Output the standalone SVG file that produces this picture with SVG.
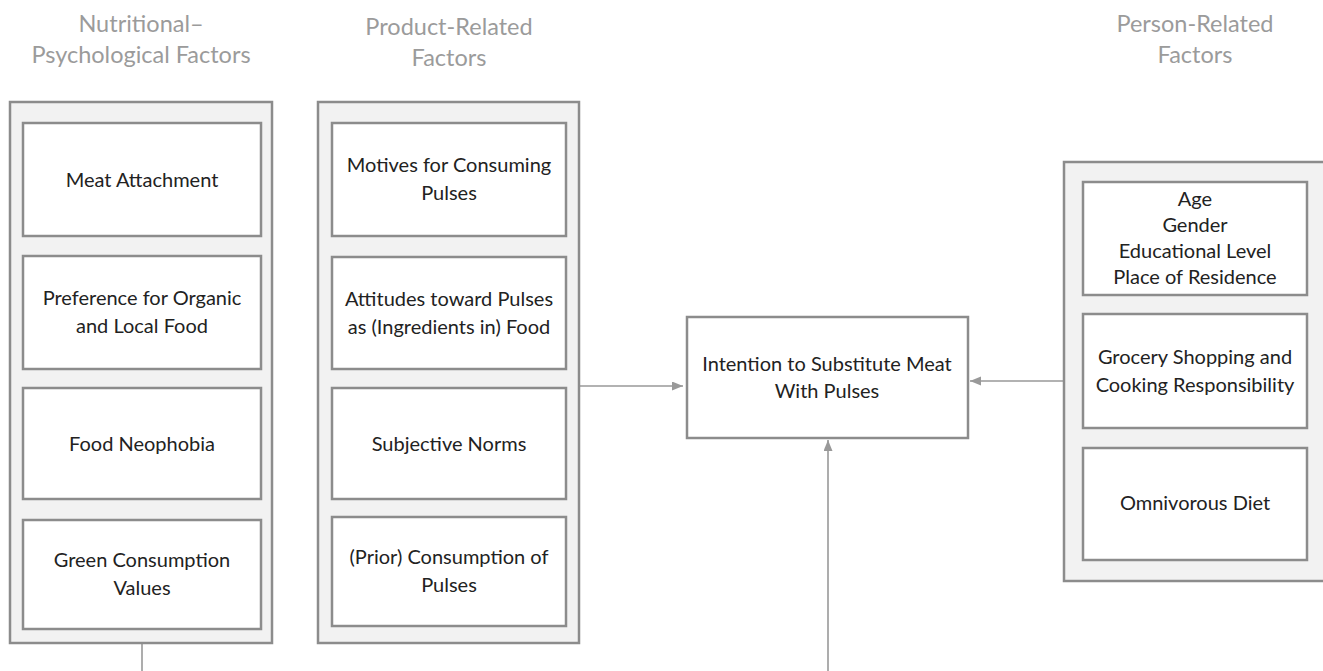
<svg xmlns="http://www.w3.org/2000/svg" width="1323" height="671" viewBox="0 0 1323 671">
<style>
.bg{fill:#ffffff}
.outer{fill:#f2f2f2;stroke:#8c8c8c;stroke-width:2.5}
.inner{fill:#ffffff;stroke:#8c8c8c;stroke-width:2.5}
.title{font-family:Lato,"Liberation Sans",sans-serif;font-size:23.5px;fill:#9b9b9b;text-anchor:middle}
.lbl{font-family:Lato,"Liberation Sans",sans-serif;font-size:20px;fill:#222222;text-anchor:middle}
.conn{fill:none;stroke:#999999;stroke-width:1.6}
</style>
<defs>
<marker id="arr" markerUnits="userSpaceOnUse" markerWidth="12" markerHeight="10" refX="11" refY="4.5" orient="auto">
<path d="M0,0 L11,4.5 L0,9 z" fill="#999999"/>
</marker>
</defs>
<rect class="bg" x="0" y="0" width="1323" height="671"/>

<g id="connectors">
<line class="conn" x1="142" y1="643" x2="142" y2="671"/>
<line class="conn" x1="828" y1="671" x2="828" y2="440" marker-end="url(#arr)"/>
<line class="conn" x1="580" y1="386" x2="683" y2="386" marker-end="url(#arr)"/>
<line class="conn" x1="1063" y1="381" x2="970" y2="381" marker-end="url(#arr)"/>
</g>

<g id="group-nutritional">
<text class="title" x="141" y="32">Nutritional–</text>
<text class="title" x="141" y="63">Psychological Factors</text>
<rect class="outer" x="10" y="102" width="262" height="541"/>
</g>
<g id="node-meat-attachment">
<rect class="inner" x="23" y="123" width="238" height="113"/>
<text class="lbl" x="142" y="187">Meat Attachment</text>
</g>
<g id="node-organic-local">
<rect class="inner" x="23" y="256" width="238" height="113"/>
<text class="lbl" x="142" y="305">Preference for Organic</text>
<text class="lbl" x="142" y="333">and Local Food</text>
</g>
<g id="node-neophobia">
<rect class="inner" x="23" y="388" width="238" height="111"/>
<text class="lbl" x="142" y="451">Food Neophobia</text>
</g>
<g id="node-green-values">
<rect class="inner" x="23" y="520" width="238" height="109"/>
<text class="lbl" x="142" y="567">Green Consumption</text>
<text class="lbl" x="142" y="595">Values</text>
</g>

<g id="group-product">
<text class="title" x="449" y="35">Product-Related</text>
<text class="title" x="449" y="66">Factors</text>
<rect class="outer" x="318" y="102" width="261" height="541"/>
</g>
<g id="node-motives">
<rect class="inner" x="332" y="123" width="234" height="113"/>
<text class="lbl" x="449" y="172">Motives for Consuming</text>
<text class="lbl" x="449" y="200">Pulses</text>
</g>
<g id="node-attitudes">
<rect class="inner" x="332" y="257" width="234" height="112"/>
<text class="lbl" x="449" y="306">Attitudes toward Pulses</text>
<text class="lbl" x="449" y="334">as (Ingredients in) Food</text>
</g>
<g id="node-norms">
<rect class="inner" x="332" y="388" width="234" height="111"/>
<text class="lbl" x="449" y="451">Subjective Norms</text>
</g>
<g id="node-prior">
<rect class="inner" x="332" y="517" width="234" height="109"/>
<text class="lbl" x="449" y="564">(Prior) Consumption of</text>
<text class="lbl" x="449" y="592">Pulses</text>
</g>

<g id="node-intention">
<rect class="inner" x="687" y="317" width="281" height="121"/>
<text class="lbl" x="827" y="371">Intention to Substitute Meat</text>
<text class="lbl" x="827" y="398">With Pulses</text>
</g>

<g id="group-person">
<text class="title" x="1195" y="32">Person-Related</text>
<text class="title" x="1195" y="63">Factors</text>
<rect class="outer" x="1064" y="162" width="270" height="419"/>
</g>
<g id="node-demographics">
<rect class="inner" x="1083" y="182" width="224" height="113"/>
<text class="lbl" x="1195" y="206">Age</text>
<text class="lbl" x="1195" y="232">Gender</text>
<text class="lbl" x="1195" y="258">Educational Level</text>
<text class="lbl" x="1195" y="284">Place of Residence</text>
</g>
<g id="node-grocery">
<rect class="inner" x="1083" y="314" width="224" height="114"/>
<text class="lbl" x="1195" y="364">Grocery Shopping and</text>
<text class="lbl" x="1195" y="392">Cooking Responsibility</text>
</g>
<g id="node-omnivorous">
<rect class="inner" x="1083" y="448" width="224" height="112"/>
<text class="lbl" x="1195" y="510">Omnivorous Diet</text>
</g>
</svg>
